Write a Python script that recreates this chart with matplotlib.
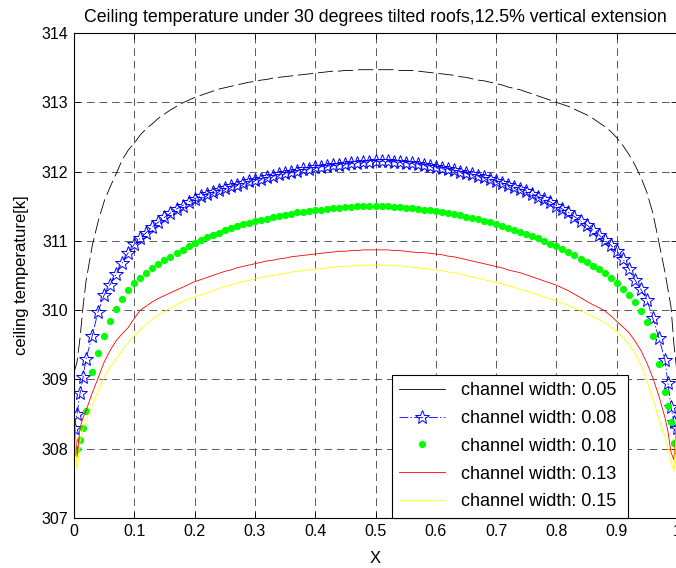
import numpy as np
import matplotlib
matplotlib.use('Agg')
import matplotlib.pyplot as plt
from matplotlib.lines import Line2D

plt.rcParams['font.family'] = ['Liberation Sans', 'DejaVu Sans']
plt.rcParams['lines.scale_dashes'] = False

# x positions: fine steps near both walls, 0.01 elsewhere
x = [0.0, 0.005, 0.01, 0.015] + [round(0.02 + 0.01 * i, 2) for i in range(97)] + [0.985, 0.99, 0.995, 1.0]

labels = ['channel width: 0.05', 'channel width: 0.08', 'channel width: 0.10',
          'channel width: 0.13', 'channel width: 0.15']

# ceiling temperature [K]
w005 = [309.10, 309.25, 309.60, 310.05,
        310.42, 310.92, 311.28, 311.57, 311.78, 311.97, 312.17, 312.31, 312.41, 312.53,
        312.62, 312.69, 312.77, 312.83, 312.89, 312.94, 312.99, 313.03, 313.07, 313.10,
        313.13, 313.16, 313.19, 313.21, 313.23, 313.25, 313.27, 313.29, 313.30, 313.32,
        313.33, 313.35, 313.36, 313.37, 313.38, 313.39, 313.40, 313.41, 313.42, 313.43,
        313.44, 313.45, 313.45, 313.46, 313.46, 313.47, 313.47, 313.47, 313.47, 313.47,
        313.47, 313.47, 313.46, 313.46, 313.46, 313.45, 313.44, 313.43, 313.42, 313.41,
        313.40, 313.39, 313.37, 313.36, 313.34, 313.32, 313.31, 313.29, 313.27, 313.25,
        313.22, 313.20, 313.18, 313.15, 313.12, 313.09, 313.06, 313.03, 313.00, 312.97,
        312.94, 312.90, 312.86, 312.82, 312.77, 312.71, 312.65, 312.58, 312.49, 312.38,
        312.25, 312.10, 311.92, 311.70, 311.40, 310.98, 310.55,
        310.30, 310.05, 309.50, 309.10]

w008 = [308.30, 308.50, 308.80, 309.03,
        309.30, 309.62, 309.98, 310.22, 310.37, 310.52, 310.68, 310.83, 310.95, 311.04,
        311.12, 311.20, 311.27, 311.34, 311.40, 311.46, 311.51, 311.56, 311.61, 311.65,
        311.68, 311.71, 311.74, 311.77, 311.79, 311.81, 311.84, 311.86, 311.88, 311.90,
        311.92, 311.94, 311.96, 311.98, 312.00, 312.01, 312.03, 312.04, 312.06, 312.07,
        312.08, 312.09, 312.10, 312.11, 312.12, 312.13, 312.14, 312.14, 312.15, 312.15,
        312.15, 312.14, 312.14, 312.13, 312.12, 312.11, 312.10, 312.08, 312.07, 312.05,
        312.04, 312.02, 312.00, 311.98, 311.96, 311.94, 311.92, 311.89, 311.87, 311.84,
        311.81, 311.78, 311.75, 311.72, 311.68, 311.64, 311.60, 311.56, 311.51, 311.46,
        311.41, 311.35, 311.29, 311.23, 311.16, 311.09, 311.01, 310.94, 310.86, 310.74,
        310.60, 310.44, 310.30, 310.15, 309.88, 309.60, 309.28,
        308.95, 308.60, 308.38, 308.30]

w010 = [307.95, 308.00, 308.12, 308.30,
        308.55, 309.10, 309.38, 309.62, 309.84, 310.02, 310.16, 310.29, 310.39, 310.47,
        310.54, 310.61, 310.67, 310.72, 310.77, 310.82, 310.87, 310.92, 310.97, 311.01,
        311.05, 311.09, 311.12, 311.15, 311.18, 311.21, 311.24, 311.26, 311.28, 311.30,
        311.32, 311.34, 311.36, 311.38, 311.39, 311.41, 311.42, 311.43, 311.44, 311.45,
        311.46, 311.47, 311.48, 311.49, 311.49, 311.50, 311.50, 311.50, 311.50, 311.50,
        311.50, 311.49, 311.49, 311.48, 311.47, 311.46, 311.45, 311.44, 311.43, 311.42,
        311.40, 311.39, 311.37, 311.35, 311.33, 311.31, 311.29, 311.27, 311.25, 311.22,
        311.19, 311.16, 311.13, 311.10, 311.07, 311.04, 311.00, 310.96, 310.92, 310.88,
        310.84, 310.79, 310.74, 310.69, 310.64, 310.59, 310.53, 310.46, 310.39, 310.31,
        310.22, 310.12, 309.99, 309.83, 309.62, 309.22, 308.82,
        308.62, 308.38, 308.08, 307.95]

w013 = [308.52, 307.88, 308.30, 308.45,
        308.55, 308.80, 309.02, 309.25, 309.42, 309.56, 309.66, 309.75, 309.88, 310.00,
        310.06, 310.12, 310.17, 310.21, 310.25, 310.29, 310.33, 310.37, 310.41, 310.44,
        310.47, 310.50, 310.53, 310.56, 310.58, 310.61, 310.63, 310.65, 310.67, 310.69,
        310.71, 310.72, 310.74, 310.75, 310.77, 310.78, 310.79, 310.80, 310.81, 310.82,
        310.83, 310.84, 310.85, 310.85, 310.86, 310.86, 310.87, 310.87, 310.87, 310.87,
        310.87, 310.86, 310.86, 310.85, 310.84, 310.83, 310.83, 310.82, 310.81, 310.80,
        310.78, 310.77, 310.75, 310.73, 310.71, 310.69, 310.67, 310.65, 310.63, 310.61,
        310.58, 310.56, 310.54, 310.51, 310.48, 310.45, 310.42, 310.39, 310.36, 310.32,
        310.28, 310.23, 310.18, 310.13, 310.08, 310.04, 309.99, 309.92, 309.84, 309.76,
        309.68, 309.56, 309.42, 309.24, 309.02, 308.76, 308.45,
        308.25, 307.95, 307.84, 308.50]

w015 = [308.45, 307.70, 308.10, 308.28,
        308.40, 308.62, 308.84, 309.03, 309.18, 309.30, 309.42, 309.53, 309.63, 309.72,
        309.80, 309.87, 309.93, 309.98, 310.03, 310.08, 310.12, 310.16, 310.19, 310.22,
        310.25, 310.28, 310.31, 310.34, 310.36, 310.39, 310.41, 310.43, 310.45, 310.47,
        310.49, 310.50, 310.52, 310.53, 310.55, 310.56, 310.57, 310.58, 310.59, 310.60,
        310.61, 310.62, 310.63, 310.63, 310.64, 310.64, 310.65, 310.65, 310.65, 310.65,
        310.65, 310.64, 310.64, 310.63, 310.62, 310.61, 310.60, 310.59, 310.58, 310.57,
        310.55, 310.54, 310.52, 310.50, 310.48, 310.46, 310.44, 310.42, 310.40, 310.38,
        310.35, 310.33, 310.30, 310.28, 310.25, 310.22, 310.19, 310.16, 310.13, 310.10,
        310.07, 310.03, 309.99, 309.95, 309.91, 309.87, 309.82, 309.76, 309.69, 309.61,
        309.51, 309.38, 309.21, 308.98, 308.72, 308.43, 308.18,
        308.00, 307.80, 307.68, 308.45]

fig = plt.figure(figsize=(6.76, 5.68), dpi=100)
ax = fig.add_axes([74 / 676, 50 / 568, 603 / 676, 485 / 568])

# plot the five channel widths (MATLAB-like colours)
ax.plot(x, w005, color='k', lw=0.6, dashes=(11, 3.5))
l2, = ax.plot(x, w008, color='b', lw=0.6, linestyle='-.', marker='*', ms=10.5,
              mfc='none', mec='b', mew=0.7)
l3, = ax.plot(x, w010, linestyle='none', marker='o', ms=5.2, color=(0, 1, 0), mec='none')
l4, = ax.plot(x, w013, color='r', lw=0.6)
l5, = ax.plot(x, w015, color=(1, 1, 0), lw=0.6)

ax.set_xlim(0, 1)
ax.set_ylim(307, 314)
ax.set_xticks(np.arange(11) / 10)
ax.set_xticklabels(['0', '0.1', '0.2', '0.3', '0.4', '0.5', '0.6', '0.7', '0.8', '0.9', '1'])
ax.set_yticks(range(307, 315))
ax.grid(True, color='0.25', linestyle=(0, (5.5, 3.5)), lw=0.6)
ax.tick_params(direction='in', top=True, right=True, length=4, width=0.6,
               labelsize=11.5, pad=4)
for s in ax.spines.values():
    s.set_linewidth(0.8)

ax.set_title('Ceiling temperature under 30 degrees tilted roofs,12.5% vertical extension',
             fontsize=12.8, pad=8)
ax.set_xlabel('X', fontsize=12, labelpad=9)
ax.set_ylabel('ceiling temperature[k]', fontsize=12, labelpad=9)

# legend line for the first entry is solid, as in the original
h1 = Line2D([], [], color='k', lw=0.6)
leg = ax.legend([h1, l2, l3, l4, l5], labels, loc='lower left',
                bbox_to_anchor=(0.527, 0.0, 0.392, 0.287), mode='expand',
                borderaxespad=0, fontsize=13, fancybox=False, edgecolor='k',
                framealpha=1, handlelength=2.5, handletextpad=0.9,
                labelspacing=0.6, borderpad=0.42)
leg.get_frame().set_linewidth(0.8)

plt.savefig('out.png', dpi=100)
